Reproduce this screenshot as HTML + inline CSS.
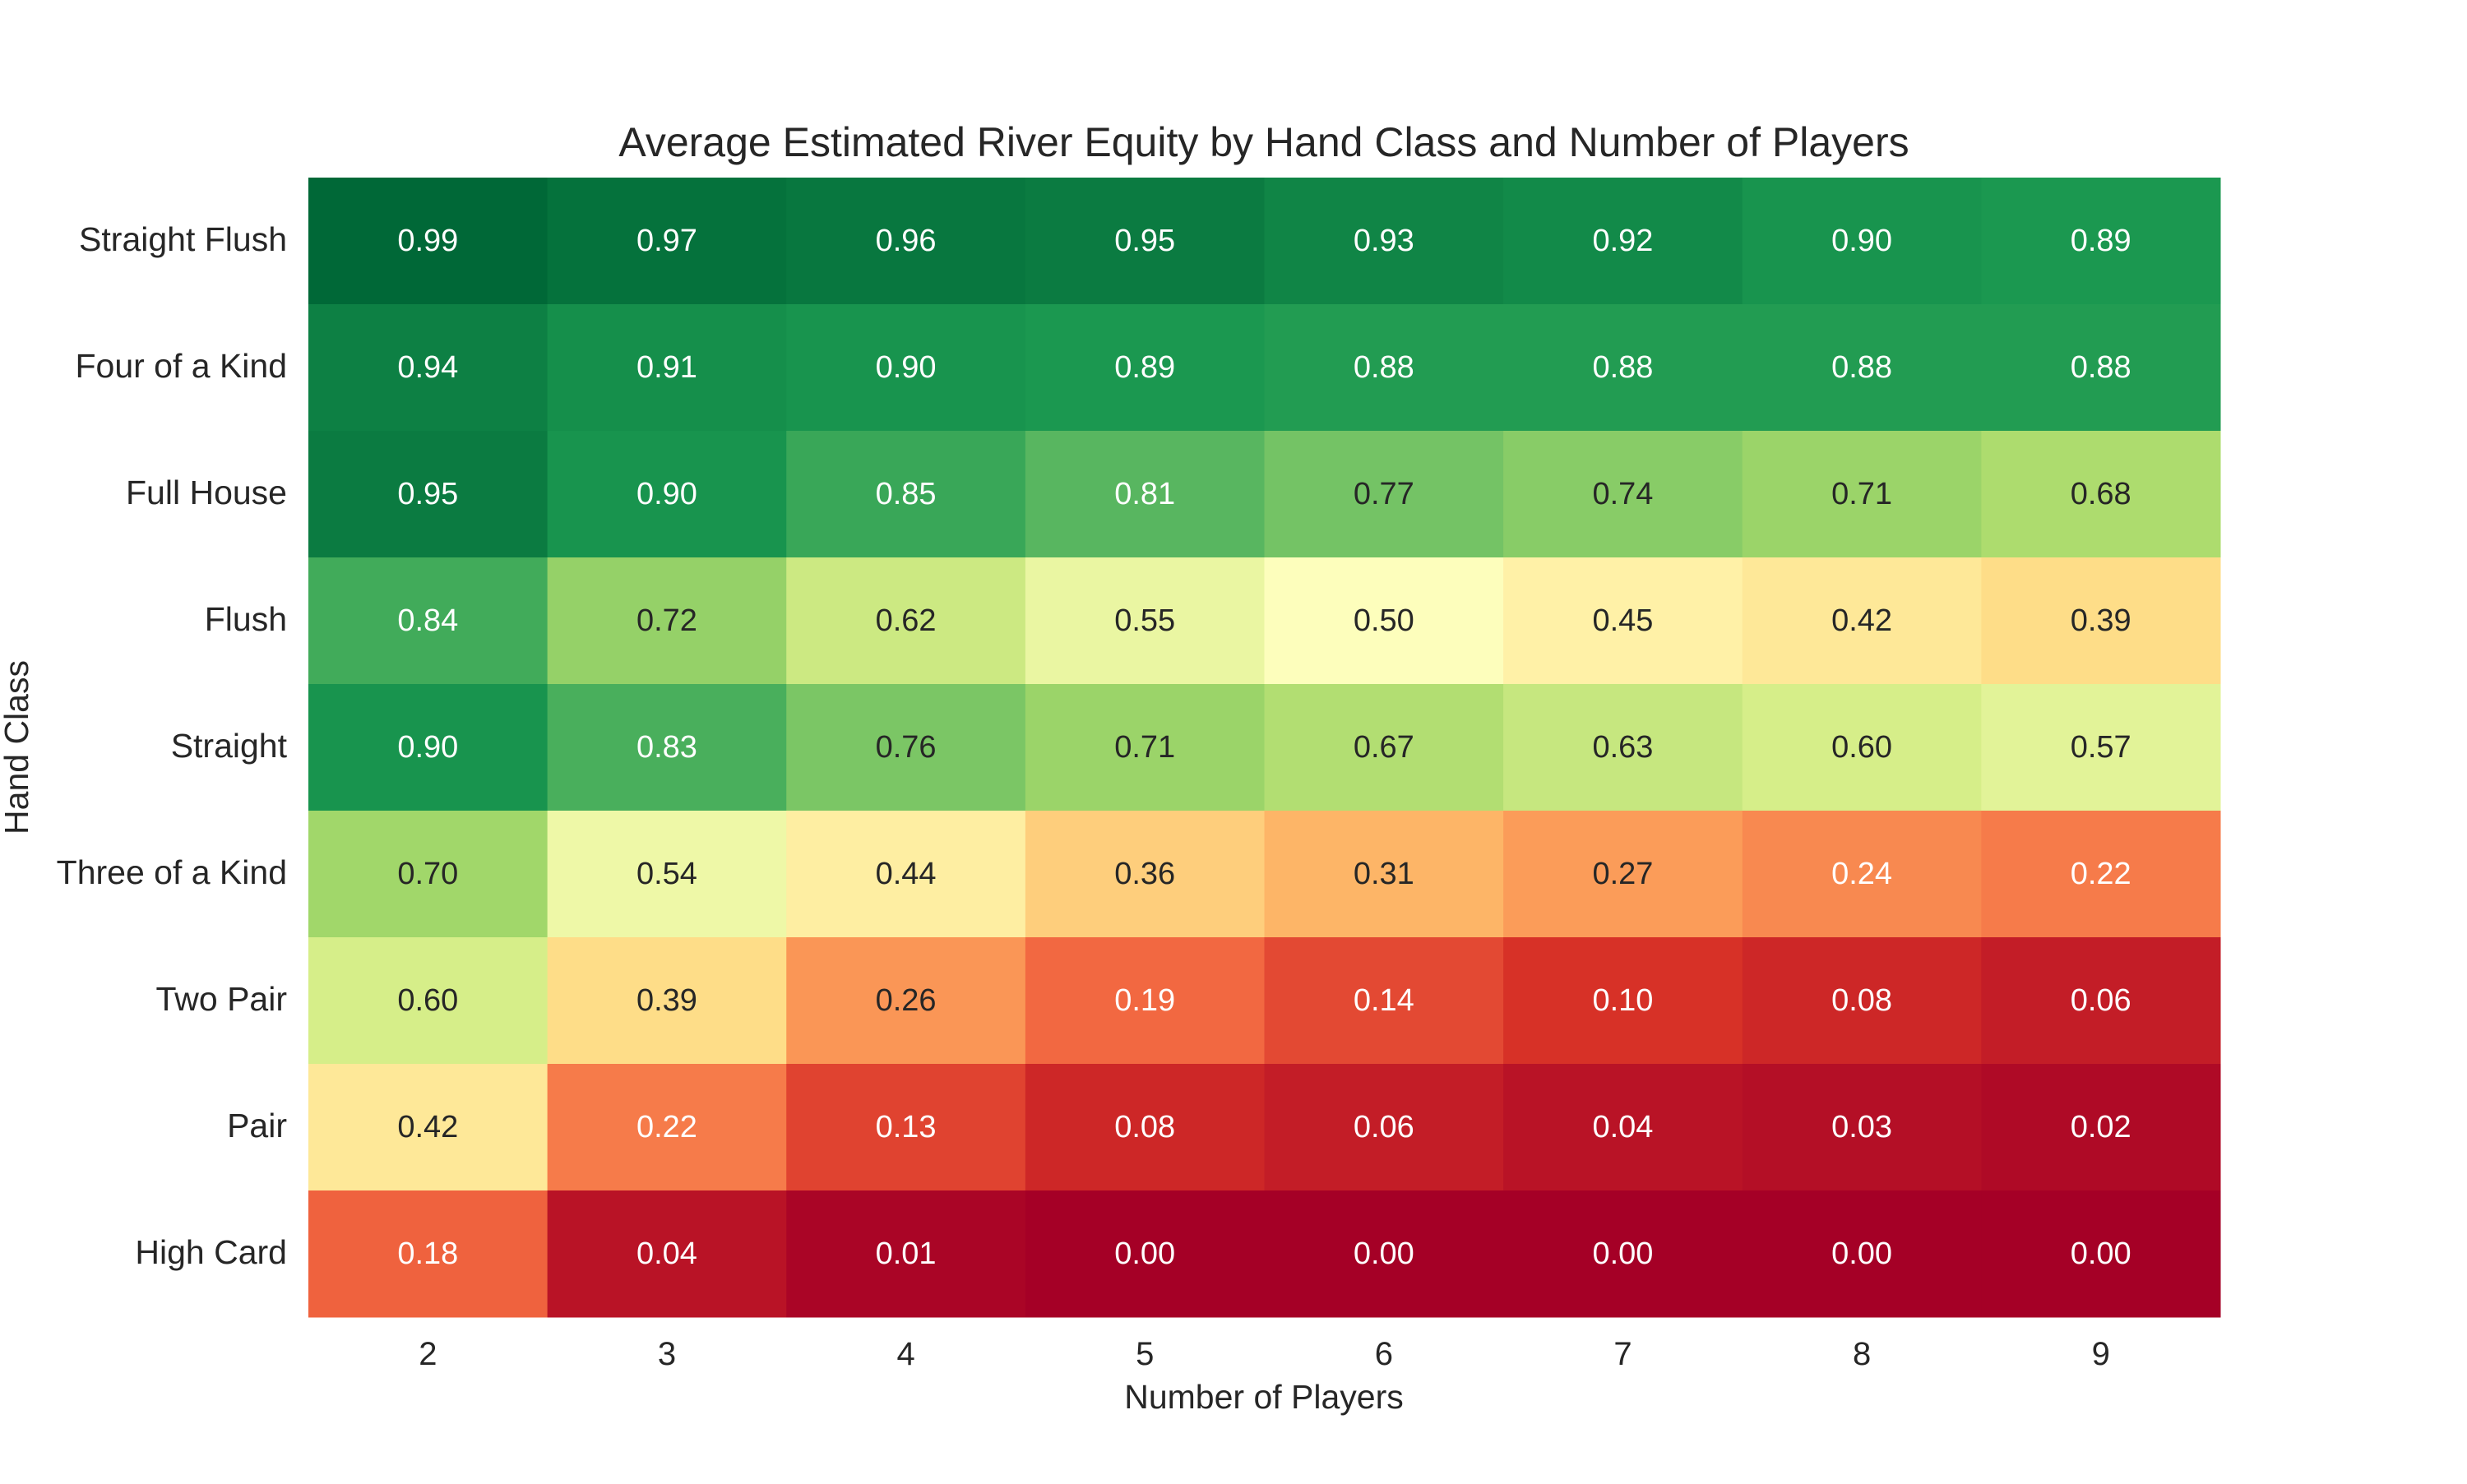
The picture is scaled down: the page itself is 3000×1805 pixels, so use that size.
<!DOCTYPE html>
<html><head><meta charset="utf-8"><style>
body{margin:0;background:#fff;}
svg text{font-family:"Liberation Sans",Arial,sans-serif;}
</style></head><body>
<svg id="chart" width="3000" height="1800" viewBox="0 0 3000 1800" xmlns="http://www.w3.org/2000/svg">
<text x="1537" y="190" font-size="50" text-anchor="middle" fill="#262626">Average Estimated River Equity by Hand Class and Number of Players</text>
<text x="1537" y="1713" font-size="41" text-anchor="middle" fill="#262626">Number of Players</text>
<text transform="translate(34,909) rotate(-90)" font-size="41" text-anchor="middle" fill="#262626">Hand Class</text>
<g id="cells"></g>
</svg>
<script>
const players = ["2","3","4","5","6","7","8","9"];
const handClasses = ["Straight Flush","Four of a Kind","Full House","Flush","Straight","Three of a Kind","Two Pair","Pair","High Card"];
const rowStraightFlush = [0.99,0.97,0.96,0.95,0.93,0.92,0.90,0.89];
const rowFourKind = [0.94,0.91,0.90,0.89,0.88,0.88,0.88,0.88];
const rowFullHouse = [0.95,0.90,0.85,0.81,0.77,0.74,0.71,0.68];
const rowFlush = [0.84,0.72,0.62,0.55,0.50,0.45,0.42,0.39];
const rowStraight = [0.90,0.83,0.76,0.71,0.67,0.63,0.60,0.57];
const rowThreeKind = [0.70,0.54,0.44,0.36,0.31,0.27,0.24,0.22];
const rowTwoPair = [0.60,0.39,0.26,0.19,0.14,0.10,0.08,0.06];
const rowPair = [0.42,0.22,0.13,0.08,0.06,0.04,0.03,0.02];
const rowHighCard = [0.18,0.04,0.01,0.00,0.00,0.00,0.00,0.00];
const values = [rowStraightFlush,rowFourKind,rowFullHouse,rowFlush,rowStraight,rowThreeKind,rowTwoPair,rowPair,rowHighCard];

const X0=375, X1=2700, Y0=216, Y1=1602;
const cw=(X1-X0)/players.length, ch=(Y1-Y0)/handClasses.length;
const xPos=i=>X0+i*cw, yPos=j=>Y0+j*ch;
const all=values.flat();
const vmin=Math.min(...all), vmax=Math.max(...all);
const stops=["#a50026","#d73027","#f46d43","#fdae61","#fee08b","#ffffbf","#d9ef8b","#a6d96a","#66bd63","#1a9850","#006837"];
function hex(h){return [1,3,5].map(k=>parseInt(h.substr(k,2),16));}
function cmap(v){v=(v-vmin)/(vmax-vmin);v=Math.max(0,Math.min(1,v));const t=v*10,i=Math.min(9,Math.floor(t)),f=t-i;
 const a=hex(stops[i]),b=hex(stops[i+1]);return a.map((c,k)=>Math.round(c+(b[k]-c)*f));}
function lum(rgb){const c=rgb.map(x=>{x/=255;return x<=0.03928?x/12.92:Math.pow((x+0.055)/1.055,2.4);});return 0.2126*c[0]+0.7152*c[1]+0.0722*c[2];}
const NS="http://www.w3.org/2000/svg";
const g=document.getElementById('cells');
values.forEach((row,j)=>{row.forEach((v,i)=>{
 const rgb=cmap(v);
 const r=document.createElementNS(NS,'rect');
 r.setAttribute('x',xPos(i));r.setAttribute('y',yPos(j));r.setAttribute('width',cw+0.5);r.setAttribute('height',ch+0.5);
 r.setAttribute('fill',`rgb(${rgb.join(',')})`);
 
 
 g.appendChild(r);
 const t=document.createElementNS(NS,'text');
 t.setAttribute('x',xPos(i)+cw/2);t.setAttribute('y',yPos(j)+ch/2+12);
 t.setAttribute('font-size','38');t.setAttribute('text-anchor','middle');
 t.setAttribute('fill',lum(rgb)>0.408?'#262626':'#ffffff');
 t.textContent=v.toFixed(2);
 
 
 g.appendChild(t);
});});
handClasses.forEach((h,j)=>{
 const t=document.createElementNS(NS,'text');
 t.setAttribute('x',349);t.setAttribute('y',yPos(j)+ch/2+12);
 t.setAttribute('font-size','41');t.setAttribute('text-anchor','end');t.setAttribute('fill','#262626');
 t.textContent=h;
 
 
 g.appendChild(t);
});
players.forEach((p,i)=>{
 const t=document.createElementNS(NS,'text');
 t.setAttribute('x',xPos(i)+cw/2);t.setAttribute('y',1660);
 t.setAttribute('font-size','40');t.setAttribute('text-anchor','middle');t.setAttribute('fill','#262626');
 t.textContent=p;
 
 
 g.appendChild(t);
});
</script>
</body></html>
